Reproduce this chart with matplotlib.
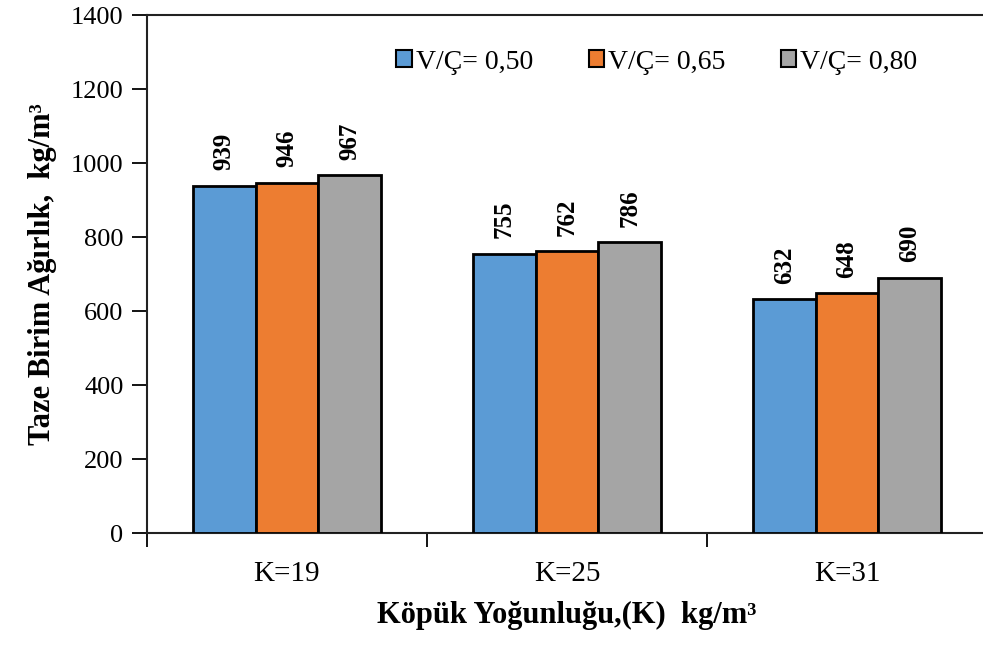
import matplotlib
matplotlib.use("Agg")
import matplotlib.pyplot as plt
import numpy as np

categories = ["K=19", "K=25", "K=31"]
series_names = ["V/Ç= 0,50", "V/Ç= 0,65", "V/Ç= 0,80"]
vc050 = [939, 755, 632]
vc065 = [946, 762, 648]
vc080 = [967, 786, 690]
colors = ["#5B9BD5", "#ED7D31", "#A5A5A5"]

plt.rcParams['font.family'] = ['Liberation Serif', 'DejaVu Serif']

fig = plt.figure(figsize=(9.83, 6.46), dpi=100)
ax = fig.add_axes([147/983, 113/646, 840/983, 518/646])

x = np.arange(len(categories))
w = 0.224
for i, vals in enumerate([vc050, vc065, vc080]):
    pos = x + (i - 1) * w
    ax.bar(pos, vals, w, color=colors[i], edgecolor='black',
           linewidth=2, label=series_names[i], zorder=3)
    for xp, v in zip(pos, vals):
        ax.text(xp, v + 42, str(v), rotation=90, ha='center', va='bottom',
                fontsize=18, fontweight='bold')

ax.set_xlim(-0.5, 2.5)
ax.set_ylim(0, 1400)
ax.set_yticks(range(0, 1401, 200))
ax.set_xticks(x)
ax.set_xticklabels(categories)
ax.set_xticks([-0.5, 0.5, 1.5, 2.5], minor=True)
ax.tick_params(axis='x', which='major', length=0, labelsize=21, pad=20)
ax.tick_params(axis='x', which='minor', length=10, width=1.3, direction='out')
ax.tick_params(axis='y', length=11, width=1.3, direction='out', labelsize=19, pad=6)

for s in ['left', 'bottom', 'top']:
    ax.spines[s].set_linewidth(1.5)
    ax.spines[s].set_color('#222222')
ax.spines['right'].set_visible(False)

ax.set_ylabel("Taze Birim Ağırlık,  kg/m³", fontsize=22, fontweight='bold', labelpad=10)
ax.set_xlabel("Köpük Yoğunluğu,(K)  kg/m³", fontsize=22, fontweight='bold', labelpad=10)

leg = ax.legend(loc='center', bbox_to_anchor=(0.607, 0.909), ncol=3, frameon=False,
                fontsize=20, handlelength=0.55, handleheight=0.55, handletextpad=0.15,
                columnspacing=2.0)
for h in leg.legend_handles:
    h.set_linewidth(1.5)

fig.savefig("out.png", dpi=100)
